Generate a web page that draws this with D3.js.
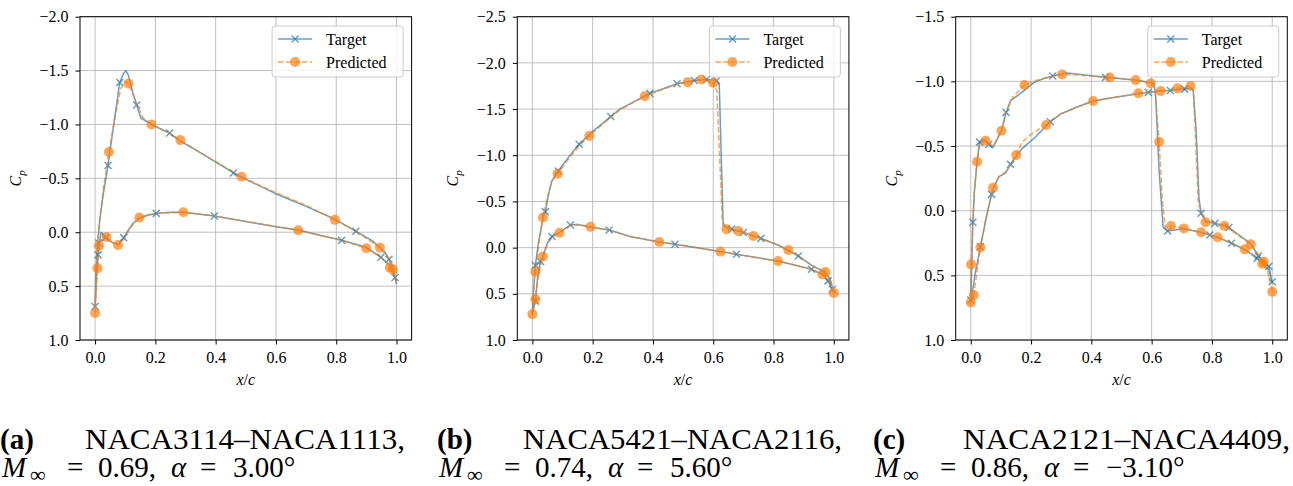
<!DOCTYPE html>
<html>
<head>
<meta charset="utf-8">
<script src="https://cdn.jsdelivr.net/npm/d3@7"></script>
<style>
body { margin: 0; background: #fff; }
</style>
</head>
<body>
<div id="chart"></div>
<script>
/****** data ******/
var xTicks = [0.0, 0.2, 0.4, 0.6, 0.8, 1.0];
var yTicksA = [-2.0, -1.5, -1.0, -0.5, 0.0, 0.5, 1.0];
var yTicksB = [-2.5, -2.0, -1.5, -1.0, -0.5, 0.0, 0.5, 1.0];
var yTicksC = [-1.5, -1.0, -0.5, 0.0, 0.5, 1.0];

var tags = ["(a)", "(b)", "(c)"];
var pairs = ["NACA3114–NACA1113,", "NACA5421–NACA2116,", "NACA2121–NACA4409,"];
var machs = ["0.69,", "0.74,", "0.86,"];
var alphas = ["3.00°", "5.60°", "−3.10°"];
var seriesNames = ["Target", "Predicted"];

// panel (a): surfaces from leading edge to trailing edge, [x/c, Cp]
var targetUpperA = [[0,0.69],[0.003,0.35],[0.008,0.12],[0.015,-0.1],[0.027,-0.35],[0.043,-0.62],[0.062,-1.0],[0.082,-1.39],[0.094,-1.47],[0.102,-1.5],[0.11,-1.46],[0.125,-1.3],[0.138,-1.18],[0.152,-1.06],[0.17,-1.03],[0.187,-1.0],[0.247,-0.92],[0.28,-0.85],[0.36,-0.72],[0.459,-0.55],[0.486,-0.51],[0.597,-0.36],[0.7,-0.24],[0.796,-0.12],[0.865,-0.01],[0.92,0.08],[0.96,0.18],[0.975,0.25],[0.99,0.35],[1.0,0.48]];
var targetLowerA = [[0,0.69],[0.005,0.4],[0.01,0.21],[0.014,0.1],[0.02,0.0],[0.03,0.03],[0.045,0.07],[0.06,0.1],[0.078,0.11],[0.095,0.05],[0.11,-0.02],[0.125,-0.08],[0.147,-0.13],[0.175,-0.16],[0.203,-0.175],[0.25,-0.185],[0.293,-0.186],[0.396,-0.15],[0.5,-0.1],[0.6,-0.05],[0.674,-0.02],[0.75,0.03],[0.818,0.075],[0.9,0.14],[0.948,0.232],[0.975,0.3],[0.99,0.38],[1.0,0.48]];
var targetMarksA = [[0,0.69],[0.01,0.21],[0.012,0.1],[0.035,0.05],[0.043,-0.62],[0.082,-1.39],[0.095,0.05],[0.138,-1.18],[0.203,-0.175],[0.247,-0.92],[0.396,-0.15],[0.459,-0.55],[0.818,0.075],[0.865,-0.01],[0.948,0.232],[0.975,0.25],[0.995,0.42]];
var predUpperA = [[0,0.75],[0.004,0.35],[0.008,0.12],[0.015,-0.1],[0.027,-0.4],[0.046,-0.745],[0.065,-1.05],[0.085,-1.33],[0.1,-1.4],[0.111,-1.38],[0.125,-1.28],[0.14,-1.17],[0.16,-1.06],[0.187,-1.0],[0.247,-0.92],[0.283,-0.855],[0.36,-0.72],[0.459,-0.56],[0.486,-0.515],[0.597,-0.37],[0.7,-0.25],[0.796,-0.115],[0.865,-0.01],[0.945,0.143],[0.97,0.22],[0.983,0.33],[1.0,0.47]];
var predLowerA = [[0,0.75],[0.005,0.5],[0.008,0.335],[0.013,0.124],[0.02,0.05],[0.038,0.045],[0.055,0.09],[0.076,0.118],[0.095,0.07],[0.12,-0.05],[0.147,-0.137],[0.203,-0.175],[0.293,-0.186],[0.396,-0.15],[0.5,-0.1],[0.674,-0.018],[0.818,0.075],[0.9,0.149],[0.948,0.232],[0.978,0.315],[0.99,0.345],[1.0,0.47]];
var predMarksA = [[0,0.75],[0.008,0.335],[0.013,0.124],[0.038,0.045],[0.046,-0.745],[0.076,0.118],[0.111,-1.38],[0.147,-0.137],[0.187,-1.0],[0.283,-0.855],[0.293,-0.186],[0.486,-0.515],[0.674,-0.018],[0.796,-0.115],[0.9,0.149],[0.945,0.143],[0.978,0.33],[0.988,0.345]];

// panel (b)
var targetUpperB = [[0,0.72],[0.005,0.4],[0.01,0.19],[0.02,-0.05],[0.035,-0.32],[0.043,-0.39],[0.052,-0.55],[0.064,-0.72],[0.086,-0.83],[0.12,-0.98],[0.155,-1.12],[0.197,-1.25],[0.26,-1.42],[0.29,-1.5],[0.39,-1.67],[0.48,-1.775],[0.537,-1.81],[0.578,-1.82],[0.611,-1.81],[0.62,-1.76],[0.633,-0.235],[0.661,-0.2],[0.7,-0.163],[0.758,-0.1],[0.82,-0.02],[0.882,0.09],[0.93,0.2],[0.97,0.26],[0.987,0.34],[1.0,0.49]];
var targetLowerB = [[0,0.72],[0.005,0.65],[0.01,0.58],[0.018,0.3],[0.027,0.15],[0.035,0.09],[0.05,-0.05],[0.065,-0.12],[0.09,-0.165],[0.126,-0.245],[0.15,-0.25],[0.195,-0.22],[0.255,-0.19],[0.324,-0.12],[0.421,-0.06],[0.473,-0.036],[0.624,0.043],[0.677,0.072],[0.815,0.145],[0.926,0.235],[0.962,0.29],[0.981,0.36],[1.0,0.49]];
var targetMarksB = [[0.01,0.58],[0.01,0.19],[0.027,0.15],[0.043,-0.39],[0.065,-0.12],[0.086,-0.83],[0.126,-0.245],[0.155,-1.12],[0.255,-0.19],[0.26,-1.42],[0.39,-1.67],[0.473,-0.036],[0.48,-1.775],[0.537,-1.81],[0.578,-1.82],[0.611,-1.81],[0.661,-0.2],[0.677,0.072],[0.7,-0.163],[0.758,-0.1],[0.882,0.09],[0.926,0.235],[0.981,0.36],[0.995,0.45]];
var predUpperB = [[0,0.72],[0.005,0.4],[0.01,0.26],[0.022,-0.05],[0.035,-0.326],[0.05,-0.55],[0.065,-0.72],[0.084,-0.8],[0.12,-0.96],[0.155,-1.1],[0.189,-1.21],[0.26,-1.41],[0.29,-1.49],[0.373,-1.64],[0.48,-1.77],[0.515,-1.79],[0.561,-1.82],[0.6,-1.786],[0.612,-1.7],[0.63,-0.3],[0.644,-0.2],[0.683,-0.18],[0.733,-0.127],[0.8,-0.05],[0.849,0.025],[0.9,0.13],[0.94,0.22],[0.972,0.265],[0.99,0.36],[1.0,0.49]];
var predLowerB = [[0,0.72],[0.005,0.62],[0.01,0.56],[0.02,0.3],[0.035,0.097],[0.05,-0.04],[0.065,-0.11],[0.09,-0.162],[0.128,-0.245],[0.15,-0.25],[0.193,-0.225],[0.255,-0.19],[0.324,-0.12],[0.421,-0.06],[0.5,-0.025],[0.624,0.043],[0.7,0.085],[0.815,0.145],[0.926,0.235],[0.962,0.29],[0.985,0.35],[1.0,0.49]];
var predMarksB = [[0,0.72],[0.01,0.26],[0.01,0.56],[0.035,0.097],[0.035,-0.326],[0.084,-0.8],[0.09,-0.162],[0.189,-1.21],[0.193,-0.225],[0.373,-1.64],[0.421,-0.06],[0.515,-1.79],[0.561,-1.82],[0.6,-1.786],[0.624,0.043],[0.644,-0.2],[0.683,-0.18],[0.733,-0.127],[0.815,0.145],[0.849,0.025],[0.962,0.29],[0.972,0.265],[1.0,0.49]];

// panel (c)
var targetUpperC = [[0,0.7],[0.003,0.45],[0.007,0.09],[0.012,-0.15],[0.021,-0.38],[0.029,-0.53],[0.045,-0.55],[0.06,-0.513],[0.073,-0.487],[0.087,-0.55],[0.102,-0.62],[0.117,-0.76],[0.132,-0.85],[0.155,-0.89],[0.178,-0.93],[0.209,-0.99],[0.24,-1.02],[0.272,-1.041],[0.319,-1.065],[0.447,-1.031],[0.547,-1.01],[0.597,-0.99],[0.607,-0.985],[0.613,-0.9],[0.625,-0.3],[0.638,0.13],[0.653,0.157],[0.707,0.14],[0.764,0.167],[0.793,0.188],[0.819,0.206],[0.865,0.252],[0.909,0.3],[0.95,0.37],[0.975,0.42],[0.989,0.46],[1.0,0.56]];
var targetLowerC = [[0,0.7],[0.006,0.62],[0.015,0.48],[0.032,0.279],[0.05,0.07],[0.069,-0.126],[0.08,-0.2],[0.093,-0.263],[0.115,-0.29],[0.132,-0.358],[0.151,-0.42],[0.17,-0.48],[0.21,-0.56],[0.264,-0.688],[0.3,-0.75],[0.35,-0.8],[0.406,-0.848],[0.474,-0.875],[0.556,-0.905],[0.589,-0.915],[0.63,-0.925],[0.662,-0.93],[0.71,-0.94],[0.728,-0.95],[0.738,-0.93],[0.748,-0.6],[0.757,-0.1],[0.764,0.02],[0.779,0.08],[0.81,0.098],[0.841,0.116],[0.856,0.13],[0.929,0.255],[0.954,0.35],[0.972,0.4],[0.989,0.43],[1.0,0.56]];
var targetMarksC = [[0,0.69],[0.007,0.09],[0.029,-0.53],[0.032,0.279],[0.06,-0.513],[0.069,-0.126],[0.117,-0.76],[0.132,-0.358],[0.264,-0.688],[0.272,-1.041],[0.447,-1.031],[0.589,-0.915],[0.653,0.157],[0.662,-0.93],[0.71,-0.94],[0.764,0.02],[0.793,0.188],[0.81,0.098],[0.856,0.13],[0.865,0.252],[0.95,0.37],[0.954,0.35],[0.989,0.43],[1.0,0.55]];
var predUpperC = [[0,0.71],[0.001,0.415],[0.006,0.1],[0.012,-0.15],[0.021,-0.379],[0.03,-0.52],[0.049,-0.541],[0.062,-0.52],[0.075,-0.5],[0.088,-0.56],[0.102,-0.618],[0.117,-0.76],[0.14,-0.88],[0.178,-0.972],[0.22,-1.01],[0.272,-1.04],[0.303,-1.054],[0.35,-1.05],[0.461,-1.03],[0.547,-1.01],[0.597,-0.985],[0.61,-0.95],[0.625,-0.533],[0.635,-0.1],[0.645,0.13],[0.664,0.119],[0.707,0.137],[0.764,0.167],[0.819,0.206],[0.865,0.25],[0.909,0.299],[0.95,0.36],[0.967,0.41],[0.985,0.47],[1.0,0.627]];
var predLowerC = [[0,0.71],[0.01,0.652],[0.02,0.48],[0.032,0.285],[0.05,0.06],[0.074,-0.178],[0.093,-0.26],[0.115,-0.3],[0.151,-0.43],[0.17,-0.53],[0.2,-0.59],[0.25,-0.663],[0.3,-0.75],[0.406,-0.848],[0.474,-0.875],[0.556,-0.908],[0.63,-0.925],[0.686,-0.946],[0.729,-0.964],[0.738,-0.94],[0.745,-0.6],[0.755,-0.05],[0.779,0.09],[0.81,0.1],[0.841,0.116],[0.929,0.26],[0.972,0.395],[0.985,0.47],[1.0,0.627]];
var predMarksC = [[0,0.709],[0.001,0.415],[0.01,0.652],[0.021,-0.379],[0.032,0.285],[0.049,-0.541],[0.074,-0.178],[0.102,-0.618],[0.151,-0.43],[0.178,-0.972],[0.25,-0.663],[0.303,-1.054],[0.406,-0.848],[0.461,-1.03],[0.547,-1.01],[0.556,-0.908],[0.597,-0.985],[0.625,-0.533],[0.63,-0.925],[0.664,0.119],[0.686,-0.946],[0.707,0.137],[0.729,-0.964],[0.764,0.167],[0.779,0.09],[0.819,0.206],[0.841,0.116],[0.909,0.299],[0.929,0.26],[0.967,0.41],[0.972,0.395],[1.0,0.627]];

/****** layout ******/
var blue = "#1f77b4";
var orange = "#ff7f0e";
var fontFamily = "'Liberation Serif', 'Times New Roman', serif";
var axLeft = [80, 517.3, 955.7];
var axWidth = 331.6;
var axTop = 16.7;
var axBottom = 340;
var capX = [0, 437, 873];
var capPairStart = [85, 523, 963];
var capPairEnd = [405, 842, 1290];

var panels = [
    {yTicks: yTicksA, tU: targetUpperA, tL: targetLowerA, tM: targetMarksA, pU: predUpperA, pL: predLowerA, pM: predMarksA},
    {yTicks: yTicksB, tU: targetUpperB, tL: targetLowerB, tM: targetMarksB, pU: predUpperB, pL: predLowerB, pM: predMarksB},
    {yTicks: yTicksC, tU: targetUpperC, tL: targetLowerC, tM: targetMarksC, pU: predUpperC, pL: predLowerC, pM: predMarksC}
];

var svg = d3.select("#chart").append("svg")
    .attr("width", 1293)
    .attr("height", 486);

var fmt = d3.format(".1f");
var crossPath = "M-3.5,-3.5L3.5,3.5M-3.5,3.5L3.5,-3.5";

// trailing edge -> leading edge along one surface, then back along the other
function loop(upper, lower) {
    return upper.slice().reverse().concat(lower.slice(1));
}

function drawPanel(p, k) {
    var left = axLeft[k];
    var x = d3.scaleLinear().domain([-0.05, 1.05]).range([left, left + axWidth]);
    var y = d3.scaleLinear().domain([p.yTicks[0], p.yTicks[p.yTicks.length - 1]]).range([axTop, axBottom]);
    var g = svg.append("g");

    // grid
    g.selectAll(".gx").data(xTicks).enter().append("line")
        .attr("x1", d => x(d)).attr("x2", d => x(d))
        .attr("y1", axTop).attr("y2", axBottom)
        .attr("stroke", "#b0b0b0").attr("stroke-width", 0.8);
    g.selectAll(".gy").data(p.yTicks).enter().append("line")
        .attr("y1", d => y(d)).attr("y2", d => y(d))
        .attr("x1", left).attr("x2", left + axWidth)
        .attr("stroke", "#b0b0b0").attr("stroke-width", 0.8);

    var line = d3.line().x(d => x(d[0])).y(d => y(d[1]));

    // target
    g.append("path").datum(loop(p.tU, p.tL)).attr("d", line)
        .attr("fill", "none").attr("stroke", blue).attr("stroke-opacity", 0.7)
        .attr("stroke-width", 1.5).attr("stroke-linejoin", "round");
    g.selectAll(".tm").data(p.tM).enter().append("path")
        .attr("transform", d => "translate(" + x(d[0]) + "," + y(d[1]) + ")")
        .attr("d", crossPath).attr("stroke", blue).attr("stroke-opacity", 0.7)
        .attr("stroke-width", 1.5).attr("fill", "none");

    // predicted
    g.append("path").datum(loop(p.pU, p.pL)).attr("d", line)
        .attr("fill", "none").attr("stroke", orange).attr("stroke-opacity", 0.7)
        .attr("stroke-width", 1.5).attr("stroke-dasharray", "5.5,2.4").attr("stroke-linejoin", "round");
    g.selectAll(".pm").data(p.pM).enter().append("circle")
        .attr("cx", d => x(d[0])).attr("cy", d => y(d[1])).attr("r", 5)
        .attr("fill", orange).attr("fill-opacity", 0.7);

    // frame
    g.append("rect").attr("x", left).attr("y", axTop)
        .attr("width", axWidth).attr("height", axBottom - axTop)
        .attr("fill", "none").attr("stroke", "#000").attr("stroke-width", 1);

    // axes
    var ax = g.append("g").attr("transform", "translate(0," + axBottom + ")")
        .call(d3.axisBottom(x).tickValues(xTicks).tickFormat(fmt).tickSize(4.5).tickPadding(7.4));
    var ay = g.append("g").attr("transform", "translate(" + left + ",0)")
        .call(d3.axisLeft(y).tickValues(p.yTicks).tickFormat(fmt).tickSize(4.5).tickPadding(7));
    [ax, ay].forEach(function (a) {
        a.select(".domain").remove();
        a.attr("font-size", 16);
        a.selectAll("line").attr("stroke", "#000").attr("stroke-width", 1);
        a.selectAll("text").attr("fill", "#000");
    });

    // axis labels
    var xl = g.append("text").attr("x", x(0.5)).attr("y", 385)
        .attr("text-anchor", "middle").attr("font-size", 16);
    xl.append("tspan").attr("font-style", "italic").text("x");
    xl.append("tspan").text("/");
    xl.append("tspan").attr("font-style", "italic").text("c");

    var yl = g.append("text")
        .attr("transform", "translate(" + (left - 59) + "," + ((axTop + axBottom) / 2) + ") rotate(-90)")
        .attr("text-anchor", "middle").attr("font-size", 16);
    yl.append("tspan").attr("font-style", "italic").text("C");
    yl.append("tspan").attr("font-style", "italic").attr("font-size", 11).attr("dy", 4).text("p");

    // legend
    var lw = 131, lh = 51;
    var lx = left + axWidth - 8.5 - lw, ly = axTop + 9.3;
    var leg = g.append("g");
    leg.append("rect").attr("x", lx).attr("y", ly).attr("width", lw).attr("height", lh)
        .attr("rx", 3).attr("fill", "#fff").attr("fill-opacity", 0.8)
        .attr("stroke", "#cccccc").attr("stroke-width", 1);
    var rows = leg.selectAll(".row").data(seriesNames).enter().append("g")
        .attr("transform", (d, i) => "translate(" + lx + "," + (ly + 13 + i * 23) + ")");
    rows.append("line").attr("x1", 6).attr("x2", 40).attr("y1", 0).attr("y2", 0)
        .attr("stroke", (d, i) => i ? orange : blue).attr("stroke-opacity", 0.7)
        .attr("stroke-width", 1.5).attr("stroke-dasharray", (d, i) => i ? "5.5,2.4" : null);
    rows.filter((d, i) => i === 0).append("path").attr("transform", "translate(23,0)")
        .attr("d", crossPath).attr("stroke", blue).attr("stroke-opacity", 0.7).attr("stroke-width", 1.5);
    rows.filter((d, i) => i === 1).append("circle").attr("cx", 23).attr("cy", 0).attr("r", 5)
        .attr("fill", orange).attr("fill-opacity", 0.7);
    rows.append("text").attr("x", 54).attr("y", 5.5).attr("font-size", 16).text(d => d);

    // caption, first line
    g.append("text").attr("x", capX[k]).attr("y", 448.5)
        .attr("font-size", 29).attr("font-weight", "bold").text(tags[k]);
    g.append("text").attr("x", capPairEnd[k]).attr("y", 448.5).attr("text-anchor", "end")
        .attr("font-size", 29).attr("textLength", capPairEnd[k] - capPairStart[k])
        .attr("lengthAdjust", "spacingAndGlyphs").text(pairs[k]);

    // caption, second line: M_inf = ..., alpha = ...
    var c0 = capX[k] + 2, base = 476.7;
    var c2 = g.append("g").attr("font-size", 29);
    c2.append("text").attr("x", c0).attr("y", base).attr("font-style", "italic").text("M");
    c2.append("text").attr("x", c0 + 28).attr("y", base + 5).attr("font-size", 22).text("∞");
    c2.append("text").attr("x", c0 + 65).attr("y", base).text("=");
    c2.append("text").attr("x", c0 + 96).attr("y", base).text(machs[k]);
    c2.append("text").attr("x", c0 + 169).attr("y", base).attr("font-style", "italic").text("α");
    c2.append("text").attr("x", c0 + 198).attr("y", base).text("=");
    c2.append("text").attr("x", c0 + 231).attr("y", base).text(alphas[k]);
}

panels.forEach(drawPanel);
svg.selectAll("text").style("font-family", fontFamily);
</script>
</body>
</html>
